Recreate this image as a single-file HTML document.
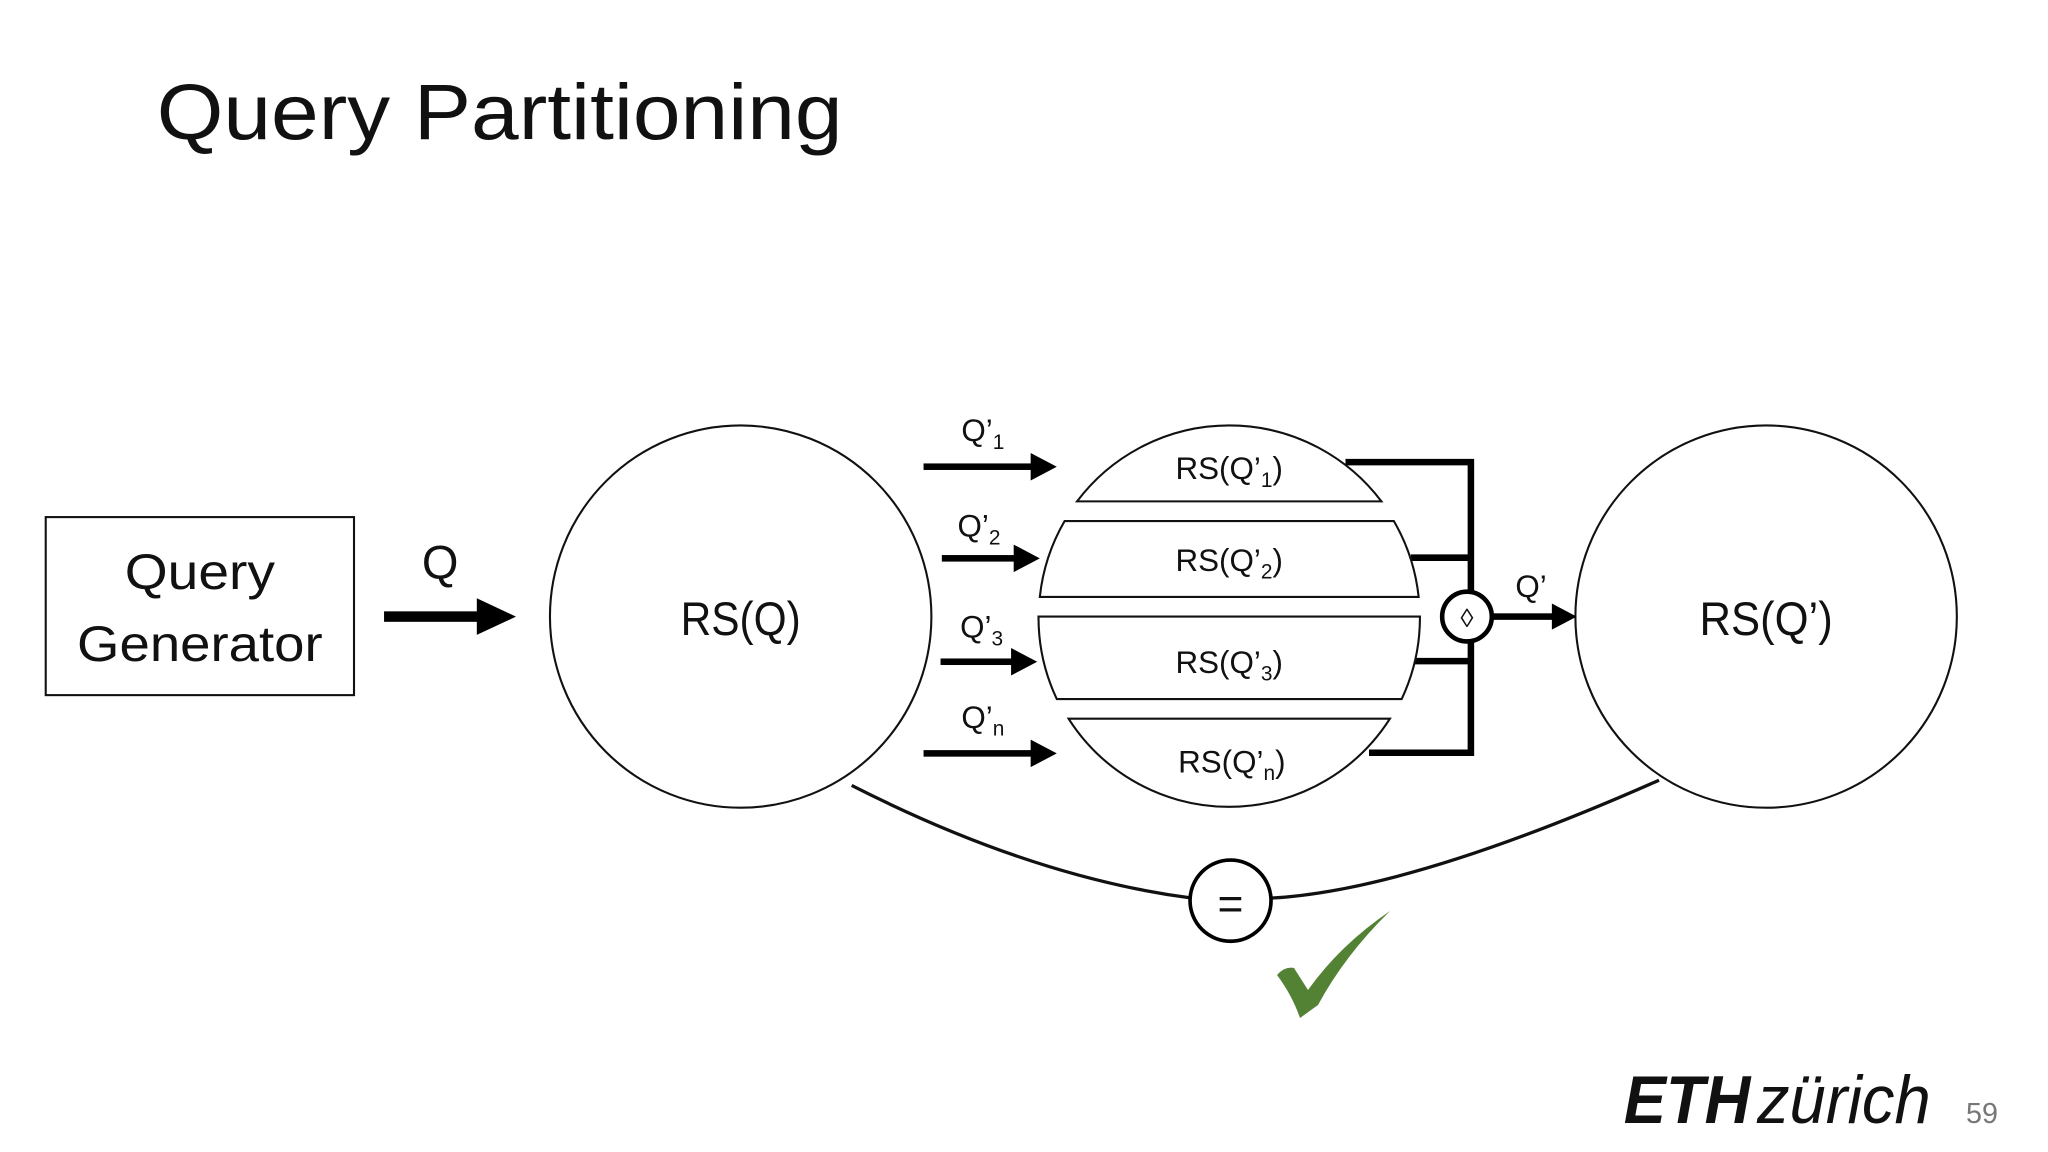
<!DOCTYPE html>
<html><head><meta charset="utf-8"><style>
html,body{margin:0;padding:0;background:#fff;}
svg{display:block;}
text{font-family:"Liberation Sans",sans-serif;fill:#111;}
</style></head><body>
<svg width="2048" height="1152" viewBox="0 0 2048 1152" xmlns="http://www.w3.org/2000/svg">
<g transform="scale(1.3063,1.3091)">
<text x="120" y="106" font-size="60" textLength="525" lengthAdjust="spacingAndGlyphs" fill="#111">Query Partitioning</text>
<rect x="35" y="395" width="236" height="136" fill="none" stroke="#111" stroke-width="1.6"/>
<text x="153" y="450" font-size="38" text-anchor="middle" textLength="115" lengthAdjust="spacingAndGlyphs">Query</text>
<text x="153" y="505" font-size="38" text-anchor="middle" textLength="188" lengthAdjust="spacingAndGlyphs">Generator</text>
<rect x="294" y="467" width="74" height="8" fill="#000"/>
<polygon points="365,457 395,471 365,485" fill="#000"/>
<text x="337" y="442" font-size="36" text-anchor="middle">Q</text>
<circle cx="567" cy="471" r="146" fill="none" stroke="#111" stroke-width="1.6"/>
<text x="567" y="485" font-size="36" text-anchor="middle" textLength="92" lengthAdjust="spacingAndGlyphs">RS(Q)</text>
<circle cx="1352" cy="471" r="146" fill="none" stroke="#111" stroke-width="1.6"/>
<text x="1352" y="485" font-size="36" text-anchor="middle" textLength="102" lengthAdjust="spacingAndGlyphs">RS(Q’)</text>
<g stroke="#000" stroke-width="5" fill="none">
<polyline points="1030,353 1126,353 1126,575 1048,575"/>
<line x1="1080" y1="426" x2="1126" y2="426"/>
<line x1="1083" y1="505" x2="1126" y2="505"/>
</g>
<g fill="#fff" stroke="#111" stroke-width="1.6">
<path d="M824.5,383 A146,146 0 0 1 1057.5,383 Z"/>
<path d="M815,398 L1067,398 A146,146 0 0 1 1086,456 L796,456 A146,146 0 0 1 815,398 Z"/>
<path d="M795,471 L1087,471 A146,146 0 0 1 1073,534 L809,534 A146,146 0 0 1 795,471 Z"/>
<path d="M1064,549 A146,146 0 0 1 818,549 Z"/>
</g>
<g font-size="24" text-anchor="middle">
<text x="941" y="366">RS(Q’<tspan font-size="16" dy="6">1</tspan><tspan dy="-6">)</tspan></text>
<text x="941" y="436">RS(Q’<tspan font-size="16" dy="6">2</tspan><tspan dy="-6">)</tspan></text>
<text x="941" y="514">RS(Q’<tspan font-size="16" dy="6">3</tspan><tspan dy="-6">)</tspan></text>
<text x="943" y="590">RS(Q’<tspan font-size="16" dy="6">n</tspan><tspan dy="-6">)</tspan></text>
</g>
<g fill="#000">
<rect x="707" y="354" width="86" height="5"/><polygon points="789,346 809,356.5 789,367"/>
<rect x="721" y="424" width="58" height="5"/><polygon points="776,416 796,426.5 776,437"/>
<rect x="720" y="503" width="58" height="5"/><polygon points="774,495 794,505.5 774,516"/>
<rect x="707" y="573" width="86" height="5"/><polygon points="789,565 809,575.5 789,586"/>
</g>
<g font-size="24">
<text x="736" y="337">Q’<tspan font-size="16" dy="6">1</tspan></text>
<text x="733" y="410">Q’<tspan font-size="16" dy="6">2</tspan></text>
<text x="735" y="487">Q’<tspan font-size="16" dy="6">3</tspan></text>
<text x="736" y="556">Q’<tspan font-size="16" dy="6">n</tspan></text>
</g>
<circle cx="1123" cy="471" r="19" fill="#fff" stroke="#000" stroke-width="3.5"/>
<text x="1123" y="479" font-size="20" text-anchor="middle">◊</text>
<rect x="1142" y="468.5" width="50" height="5" fill="#000"/>
<polygon points="1188,461 1207,471 1188,481" fill="#000"/>
<text x="1172" y="456" font-size="24" text-anchor="middle">Q’</text>
<path d="M652,600 Q790,670 912,686" fill="none" stroke="#111" stroke-width="2.5"/>
<path d="M974,686 Q1080,680 1270,596" fill="none" stroke="#111" stroke-width="2.5"/>
<circle cx="942" cy="688" r="31" fill="#fff" stroke="#000" stroke-width="2.8"/>
<text x="942" y="702" font-size="34" text-anchor="middle">=</text>
<text x="1243" y="858" font-size="52" font-weight="bold" font-style="italic" textLength="97" lengthAdjust="spacingAndGlyphs" fill="#1a1a1a">ETH</text>
<text x="1345" y="858" font-size="52" font-style="italic" textLength="133" lengthAdjust="spacingAndGlyphs" fill="#1a1a1a">zürich</text>
<text x="1505" y="858" font-size="22" style="fill:#777">59</text>
</g>
<path d="M1277,975 Q1285,966 1294,968 L1308,990 Q1340,945 1390,911 Q1345,955 1318,1005 L1300,1018 Q1292,995 1277,975 Z" fill="#548235"/>
</svg>
</body></html>
